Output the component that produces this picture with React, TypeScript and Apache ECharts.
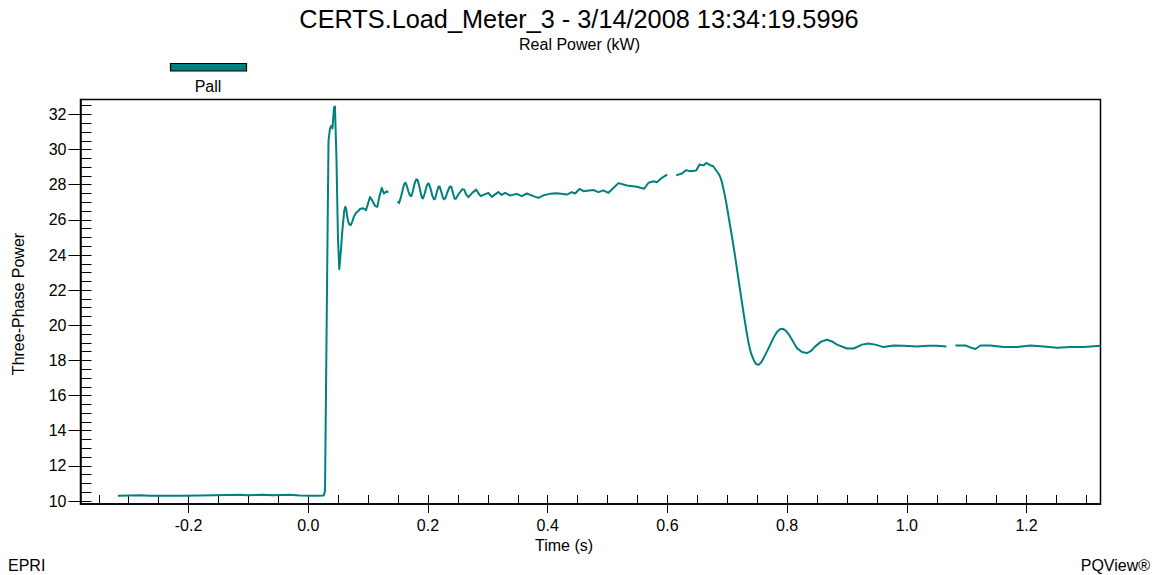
import React, { useEffect, useRef } from "react";
import * as echarts from "echarts";

const TITLE = "CERTS.Load_Meter_3 - 3/14/2008 13:34:19.5996";
const SUBTITLE = "Real Power (kW)";
const SERIES_NAME = "Pall";
const Y_NAME = "Three-Phase Power";
const X_NAME = "Time (s)";

const X_MIN = -0.3805;
const X_MAX = 1.3235;
const Y_MIN = 9.83;
const Y_MAX = 32.85;

const X_MAJOR = [-0.2, 0, 0.2, 0.4, 0.6, 0.8, 1.0, 1.2];
const X_MINOR = [
  -0.35, -0.3, -0.25, -0.2, -0.15, -0.1, -0.05, 0, 0.05, 0.1, 0.15, 0.2, 0.25, 0.3, 0.35,
  0.4, 0.45, 0.5, 0.55, 0.6, 0.65, 0.7, 0.75, 0.8, 0.85, 0.9, 0.95, 1.0, 1.05, 1.1, 1.15,
  1.2, 1.25, 1.3,
];
const Y_MAJOR = [10, 12, 14, 16, 18, 20, 22, 24, 26, 28, 30, 32];
const Y_MINOR = [
  10, 10.5, 11, 11.5, 12, 12.5, 13, 13.5, 14, 14.5, 15, 15.5, 16, 16.5, 17, 17.5, 18, 18.5,
  19, 19.5, 20, 20.5, 21, 21.5, 22, 22.5, 23, 23.5, 24, 24.5, 25, 25.5, 26, 26.5, 27, 27.5,
  28, 28.5, 29, 29.5, 30, 30.5, 31, 31.5, 32, 32.5,
];

// Segment A: pre-event baseline, step and first oscillations
const SEG_A_T = [
  -0.318, -0.281, -0.264, -0.214, -0.181, -0.136, -0.114, -0.102, -0.076, -0.059, -0.031,
  -0.014, 0.011, 0.026, 0.028, 0.0313, 0.0338, 0.0363, 0.0388, 0.0405, 0.043, 0.0446,
  0.0471, 0.0496, 0.0518, 0.0546, 0.0565, 0.06, 0.0619, 0.0635, 0.0655, 0.0672, 0.069,
  0.0709, 0.0735, 0.0764, 0.08, 0.0836, 0.0864, 0.0914, 0.0965, 0.1, 0.1031, 0.106, 0.1087,
  0.1115, 0.1153, 0.119, 0.1227, 0.1265, 0.1311, 0.1337,
];
const SEG_A_P = [
  10.3, 10.33, 10.3, 10.3, 10.31, 10.34, 10.36, 10.33, 10.35, 10.33, 10.35, 10.32, 10.3,
  10.32, 10.6, 22.0, 30.5, 31.2, 31.35, 31.2, 32.4, 32.45, 29.5, 25.0, 23.2, 24.3, 25.2,
  26.5, 26.75, 26.6, 26.1, 25.85, 25.72, 25.7, 25.9, 26.2, 26.4, 26.5, 26.62, 26.66, 26.55,
  26.95, 27.3, 27.15, 26.97, 26.8, 26.74, 27.35, 27.82, 27.5, 27.63, 27.55,
];

// Segment B: ringing and plateau
const SEG_B_T = [
  0.1494, 0.1516, 0.1545, 0.158, 0.1605, 0.1625, 0.1645, 0.1675, 0.17, 0.1722, 0.1745,
  0.1775, 0.18, 0.1822, 0.1845, 0.1875, 0.1898, 0.1918, 0.1945, 0.1975, 0.2, 0.2018, 0.2045,
  0.2075, 0.21, 0.2118, 0.2145, 0.2175, 0.2195, 0.2222, 0.225, 0.2272, 0.2292, 0.2327,
  0.2365, 0.239, 0.2419, 0.2445, 0.2465, 0.2519, 0.2575, 0.2605, 0.2636, 0.2675, 0.2745,
  0.2805, 0.2845, 0.2882, 0.2945, 0.3009, 0.3066, 0.3121, 0.3176, 0.323, 0.3288, 0.3372,
  0.3484, 0.3567, 0.3651, 0.3761, 0.3845, 0.3928, 0.404, 0.4152, 0.432, 0.4403, 0.4458,
  0.453, 0.4597, 0.4764, 0.4848, 0.4931, 0.5015, 0.5094, 0.5182, 0.5323, 0.549, 0.5612,
  0.5684, 0.5767, 0.5824, 0.5908, 0.5996,
];
const SEG_B_P = [
  27.06, 26.95, 27.25, 27.75, 28.05, 28.12, 27.95, 27.6, 27.38, 27.36, 27.6, 28.05, 28.3,
  28.3, 28.05, 27.6, 27.25, 27.22, 27.5, 27.9, 28.07, 28.04, 27.75, 27.35, 27.17, 27.2,
  27.55, 27.88, 27.9, 27.6, 27.25, 27.17, 27.25, 27.6, 27.9, 27.88, 27.5, 27.2, 27.2, 27.5,
  27.75, 27.72, 27.45, 27.29, 27.55, 27.72, 27.5, 27.35, 27.45, 27.54, 27.31, 27.45, 27.58,
  27.42, 27.54, 27.39, 27.48, 27.35, 27.5, 27.35, 27.25, 27.4, 27.48, 27.52, 27.44, 27.58,
  27.5, 27.76, 27.63, 27.7, 27.58, 27.68, 27.54, 27.8, 28.09, 27.96, 27.88, 27.77, 28.11,
  28.2, 28.14, 28.39, 28.57,
];

// Segment C: load drop and settling
const SEG_C_T = [
  0.6147, 0.6242, 0.6314, 0.6381, 0.6481, 0.6536, 0.6603, 0.6648, 0.6715, 0.6765, 0.6827,
  0.6855, 0.6882, 0.691, 0.6937, 0.6979, 0.7021, 0.7063, 0.7105, 0.7147, 0.7188, 0.723,
  0.7272, 0.7314, 0.7355, 0.7397, 0.7439, 0.748, 0.7523, 0.7565, 0.7606, 0.7662, 0.7718,
  0.7774, 0.783, 0.788, 0.793, 0.7977, 0.8024, 0.8094, 0.8164, 0.8248, 0.8332, 0.8401,
  0.847, 0.8568, 0.8666, 0.875, 0.8833, 0.9, 0.9111, 0.9251, 0.9357, 0.9474, 0.9612,
  0.9779, 0.9947, 1.017, 1.0338, 1.0505, 1.066,
];
const SEG_C_P = [
  28.53, 28.64, 28.83, 28.77, 28.81, 29.15, 29.1, 29.24, 29.11, 29.05, 28.75, 28.62, 28.45,
  28.15, 27.75, 27.05, 26.2, 25.35, 24.49, 23.55, 22.6, 21.65, 20.7, 19.8, 19.0, 18.4,
  18.04, 17.8, 17.75, 17.88, 18.13, 18.5, 18.9, 19.3, 19.62, 19.78, 19.8, 19.7, 19.5, 19.1,
  18.7, 18.48, 18.42, 18.55, 18.8, 19.07, 19.18, 19.08, 18.9, 18.68, 18.68, 18.9, 18.97,
  18.9, 18.76, 18.85, 18.83, 18.79, 18.83, 18.83, 18.79,
];

// Segment D: final steady state
const SEG_D_T = [
  1.0811, 1.0978, 1.1062, 1.1145, 1.1229, 1.1396, 1.1618, 1.1842, 1.2065, 1.2287, 1.2511,
  1.2733, 1.2955, 1.3235,
];
const SEG_D_P = [
  18.85, 18.85, 18.74, 18.65, 18.85, 18.85, 18.76, 18.76, 18.85, 18.79, 18.72, 18.76, 18.76,
  18.83,
];

const LINE_COLOR = "#00807f";
const FONT = '"Liberation Sans", Arial, Helvetica, sans-serif';

function buildData() {
  const segs: [number[], number[]][] = [
    [SEG_A_T, SEG_A_P],
    [SEG_B_T, SEG_B_P],
    [SEG_C_T, SEG_C_P],
    [SEG_D_T, SEG_D_P],
  ];
  const out: any[] = [];
  segs.forEach(([t, p], i) => {
    if (i > 0) {
      const prevT = segs[i - 1][0];
      out.push([(prevT[prevT.length - 1] + t[0]) / 2, null]);
    }
    t.forEach((x, j) => out.push([x, p[j]]));
  });
  return out;
}

export default function App() {
  const ref = useRef<HTMLDivElement>(null);
  useEffect(() => {
    if (!ref.current) return;
    const chart = echarts.init(ref.current, null, { renderer: "svg" });
    const labelStyle = { color: "#000", fontSize: 16, fontFamily: FONT };
    const option: any = {
      animation: false,
      backgroundColor: "#fff",
      grid: {
        left: 80.5,
        top: 99.5,
        width: 1020,
        height: 404.5,
        show: true,
        borderColor: "#000",
        borderWidth: 1.5,
        backgroundColor: "transparent",
        containLabel: false,
      },
      xAxis: [
        {
          type: "value",
          min: X_MIN,
          max: X_MAX,
          position: "bottom",
          axisLine: { show: true, onZero: false, lineStyle: { color: "#000", width: 1.5 } },
          axisTick: {
            show: true,
            inside: true,
            length: 9,
            customValues: X_MINOR,
            lineStyle: { color: "#000", width: 1 },
          },
          axisLabel: {
            ...labelStyle,
            margin: 13,
            customValues: X_MAJOR,
            formatter: (v: number) => v.toFixed(1),
          },
          splitLine: { show: false },
        },
        {
          type: "value",
          min: X_MIN,
          max: X_MAX,
          position: "bottom",
          offset: 0,
          axisLine: { show: false, onZero: false },
          axisTick: {
            show: true,
            inside: false,
            length: 9,
            customValues: X_MAJOR,
            lineStyle: { color: "#000", width: 1 },
          },
          axisLabel: { show: false },
          splitLine: { show: false },
        },
      ],
      yAxis: [
        {
          type: "value",
          min: Y_MIN,
          max: Y_MAX,
          position: "left",
          axisLine: { show: true, onZero: false, lineStyle: { color: "#000", width: 1.5 } },
          axisTick: {
            show: true,
            inside: true,
            length: 11,
            customValues: Y_MINOR,
            lineStyle: { color: "#000", width: 1 },
          },
          axisLabel: {
            ...labelStyle,
            margin: 14,
            customValues: Y_MAJOR,
            formatter: (v: number) => String(v),
          },
          splitLine: { show: false },
        },
        {
          type: "value",
          min: Y_MIN,
          max: Y_MAX,
          position: "left",
          offset: 0,
          axisLine: { show: false, onZero: false },
          axisTick: {
            show: true,
            inside: false,
            length: 12,
            customValues: Y_MAJOR,
            lineStyle: { color: "#000", width: 1 },
          },
          axisLabel: { show: false },
          splitLine: { show: false },
        },
      ],
      series: [
        {
          name: SERIES_NAME,
          type: "line",
          xAxisIndex: 0,
          yAxisIndex: 0,
          data: buildData(),
          showSymbol: false,
          connectNulls: false,
          lineStyle: { color: LINE_COLOR, width: 2, join: "round" },
          itemStyle: { color: LINE_COLOR },
        },
      ],
      graphic: [
        {
          type: "text",
          x: 579,
          y: 19,
          style: { text: TITLE, fontSize: 25.3, fontFamily: FONT, fill: "#000", align: "center", verticalAlign: "middle" },
        },
        {
          type: "text",
          x: 579.5,
          y: 44,
          style: { text: SUBTITLE, fontSize: 16, fontFamily: FONT, fill: "#000", align: "center", verticalAlign: "middle" },
        },
        {
          type: "rect",
          shape: { x: 170.5, y: 63.5, width: 76, height: 7.5 },
          style: { fill: LINE_COLOR, stroke: "#000", lineWidth: 1.2 },
        },
        {
          type: "text",
          x: 208,
          y: 86,
          style: { text: SERIES_NAME, fontSize: 16, fontFamily: FONT, fill: "#000", align: "center", verticalAlign: "middle" },
        },
        {
          type: "text",
          x: 18,
          y: 304,
          rotation: Math.PI / 2,
          style: { text: Y_NAME, fontSize: 16, fontFamily: FONT, fill: "#000", align: "center", verticalAlign: "middle" },
        },
        {
          type: "text",
          x: 564,
          y: 545,
          style: { text: X_NAME, fontSize: 16, fontFamily: FONT, fill: "#000", align: "center", verticalAlign: "middle" },
        },
        {
          type: "text",
          x: 8,
          y: 565,
          style: { text: "EPRI", fontSize: 16, fontFamily: FONT, fill: "#000", align: "left", verticalAlign: "middle" },
        },
        {
          type: "text",
          x: 1150,
          y: 565,
          style: { text: "PQView®", fontSize: 16, fontFamily: FONT, fill: "#000", align: "right", verticalAlign: "middle" },
        },
      ],
    };
    chart.setOption(option);
    return () => chart.dispose();
  }, []);
  return (
    <div
      ref={ref}
      style={{ position: "fixed", left: 0, top: 0, width: 1156, height: 575, background: "#fff" }}
    />
  );
}
